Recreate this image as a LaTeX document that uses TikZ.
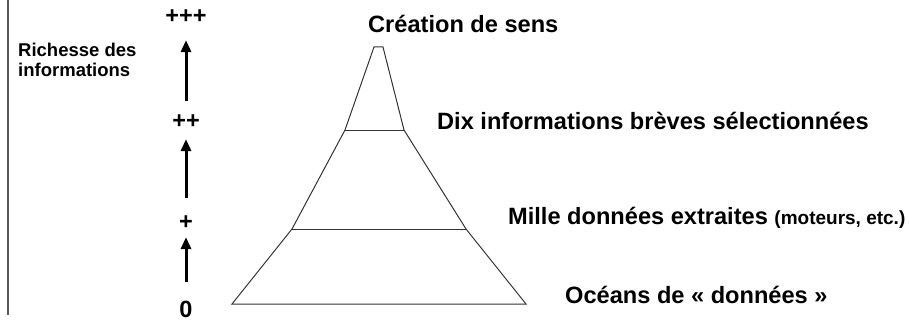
\documentclass[tikz,border=0pt]{standalone}
\usepackage{fontspec}
\setmainfont{Liberation Sans}
\usetikzlibrary{arrows.meta}
\begin{document}
\begin{tikzpicture}[x=1pt,y=-1pt,
  lbl/.style={font=\bfseries\fontsize{23.6}{28}\selectfont, anchor=base west, inner sep=0pt},
  lvl/.style={font=\bfseries\fontsize{23.5}{26}\selectfont, anchor=center, inner sep=0pt},
  small/.style={font=\bfseries\fontsize{18.5}{20}\selectfont},
  uparrow/.style={line width=3pt, -{Triangle[length=12pt,width=10pt]}},
  pyr/.style={draw=black!80, line width=1pt, line join=miter}]
\useasboundingbox (0,0) rectangle (909,321);
\draw[draw=black!65, line width=1.5pt] (8,0) -- (8,315);
% pyramid
\draw[pyr] (374,47) -- (383,47) -- (404,130) -- (466,229) -- (526,304) -- (232,304) -- (292,229) -- (345,130) -- cycle;
\draw[pyr] (345,130) -- (404,130);
\draw[pyr] (292,229) -- (466,229);
% scale labels
\node[lvl] (ppp) at (186,17) {+++};
\node[lvl] (pp) at (186,122) {++};
\node[lvl] (p) at (186,223) {+};
\node[lvl] (z) at (186,309) {0};
\draw[uparrow, shorten <=14pt, shorten >=16pt] (pp.north) -- (ppp.south);
\draw[uparrow, shorten <=18pt, shorten >=10pt] (p.north) -- (pp.south);
\draw[uparrow, shorten <=18.5pt, shorten >=7pt] (z.north) -- (p.south);
\node[small, anchor=base west, inner sep=0pt, align=left] (rich) at (18,76) {Richesse des\\informations};
% level texts
\node[lbl] (sens) at (368,33) {Création de sens};
\node[lbl] (dix) at (437,129) {Dix informations brèves sélectionnées};
\node[lbl] (mille) at (508,224) {Mille données extraites {\fontsize{19}{20}\selectfont (moteurs, etc.)}};
\node[lbl] (ocean) at (565,303) {Océans de « données »};
\end{tikzpicture}
\end{document}
